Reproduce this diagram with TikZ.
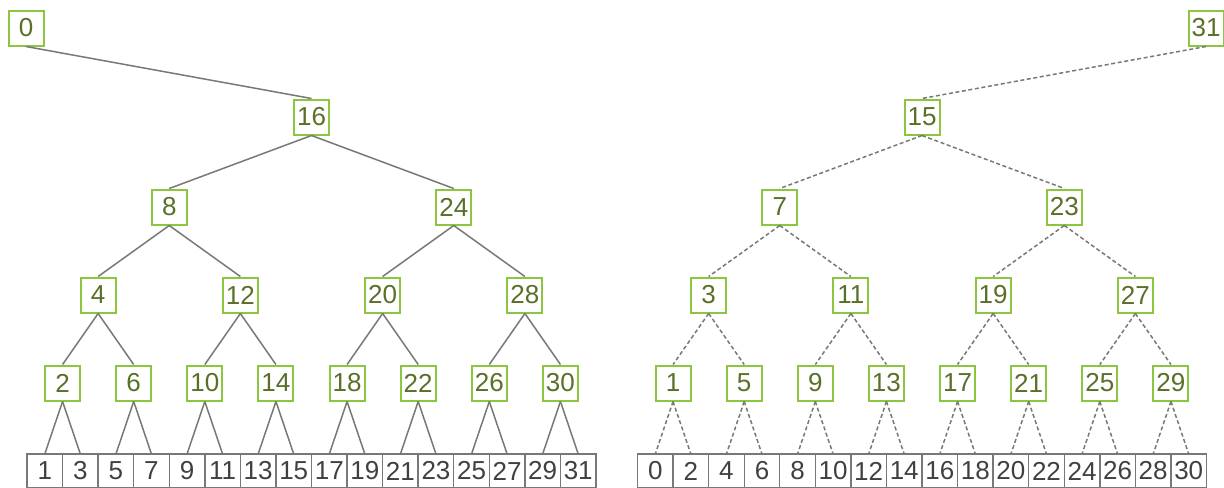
\documentclass[tikz,border=0pt]{standalone}
\usepackage{fontspec}
\setmainfont{Liberation Sans}
\usetikzlibrary{positioning}

\definecolor{keyline}{RGB}{140,198,63}
\definecolor{keytext}{RGB}{88,112,40}
\definecolor{celltext}{RGB}{64,64,64}
\definecolor{cellline}{RGB}{120,120,120}
\definecolor{edgeline}{RGB}{120,120,120}

\tikzset{
  key/.style={draw=keyline, line width=1pt, fill=white, text=keytext,
    minimum size=17.5pt, inner sep=0pt, font=\fontsize{13}{15}\selectfont},
  cell/.style={draw=cellline, line width=0.7pt, text=celltext,
    minimum width=17.78pt, minimum height=17pt, inner sep=0pt, outer sep=0pt,
    font=\fontsize{13}{15}\selectfont},
  edge/.style={draw=edgeline, line width=0.75pt},
  dedge/.style={edge, dash pattern=on 2pt off 1.3pt},
}

\begin{document}
\begin{tikzpicture}[x=0.5pt,y=-0.5pt]
  \useasboundingbox (0,0) rectangle (1224,487);

  % leaf rows: odd keys on the left, even keys on the right
  \foreach \v in {1,3,...,31}
    \node[cell] (l\v) at ({27+35.5625*\v/2},471) {\v};
  \foreach \v in {0,2,...,30}
    \node[cell] (r\v) at ({637.5+35.5625*(\v+1)/2},471) {\v};

  % inner keys, one level per row
  \foreach \y/\vals in {117/{16}, 207/{8,24}, 295/{4,12,20,28},
                        383/{2,6,10,14,18,22,26,30}} {
    \foreach \v in \vals {
      \pgfmathtruncatemacro\w{\v-1}
      \node[key] (l\v) at ({27+35.5625*\v/2},\y) {\v};
      \node[key] (r\w) at ({637.5+35.5625*\v/2},\y) {\w};
    }
  }
  \node[key] (l0)  at (26,28)   {0};
  \node[key] (r31) at (1206,28) {31};

  % edges: solid on the left tree, dashed on the right one
  \draw[edge]  (l0.south)  -- (l16.north);
  \draw[dedge] (r31.south) -- (r15.north);
  \foreach \h/\vals in {8/{16}, 4/{8,24}, 2/{4,12,20,28},
                        1/{2,6,10,14,18,22,26,30}} {
    \foreach \v in \vals {
      \pgfmathtruncatemacro\a{\v-\h}
      \pgfmathtruncatemacro\b{\v+\h}
      \pgfmathtruncatemacro\w{\v-1}
      \pgfmathtruncatemacro\c{\v-\h-1}
      \pgfmathtruncatemacro\d{\v+\h-1}
      \draw[edge]  (l\v.south) -- (l\a.north);
      \draw[edge]  (l\v.south) -- (l\b.north);
      \draw[dedge] (r\w.south) -- (r\c.north);
      \draw[dedge] (r\w.south) -- (r\d.north);
    }
  }
\end{tikzpicture}
\end{document}
